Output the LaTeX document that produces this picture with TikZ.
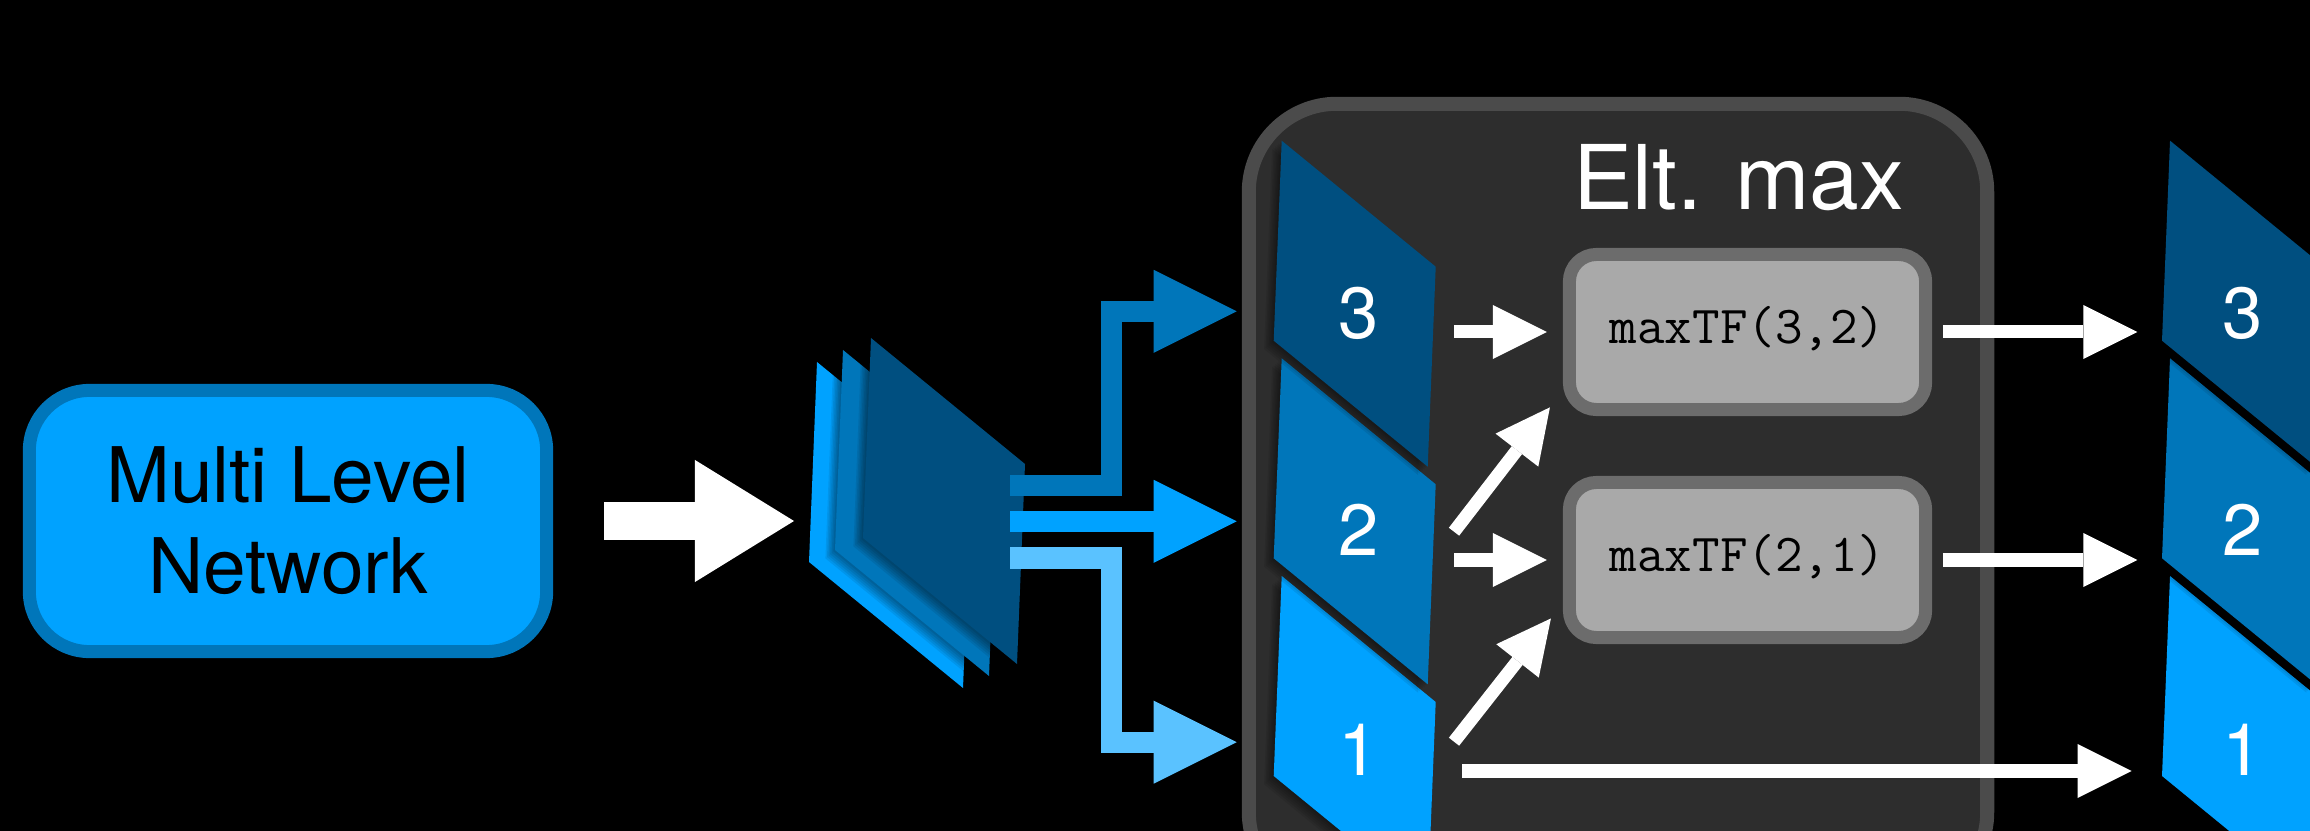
\documentclass[tikz,border=0pt]{standalone}
\usepackage{fontspec}
\setmainfont{TeX Gyre Heros}
\usetikzlibrary{arrows.meta,calc}

\definecolor{cdark}{HTML}{004F80}
\definecolor{cmid}{HTML}{0076BA}
\definecolor{clight}{HTML}{00A2FF}
\definecolor{cpale}{HTML}{5AC2FF}
\definecolor{eltfill}{HTML}{2D2D2D}
\definecolor{eltline}{HTML}{4B4B4B}
\definecolor{mxfill}{HTML}{A9A9A9}
\definecolor{mxline}{HTML}{6C6C6C}

\tikzset{
  % one slanted feature slab with a soft drop shadow
  pics/slab/.style={code={
    \foreach \k in {1,...,6}
      \fill[black, opacity=0.08, shift={(-1.6*\k,1.4*\k)}]
        (0,0) -- (154,126) -- (146,326) -- (-8,200) -- cycle;
    \fill[#1] (0,0) -- (154,126) -- (146,326) -- (-8,200) -- cycle;
  }},
  netbox/.style={draw=cmid, fill=clight, line width=0.13cm, rounded corners=0.6cm,
    minimum width=5.17cm, minimum height=2.61cm, inner sep=0pt, align=center,
    font=\fontsize{21.8}{25.9}\selectfont},
  eltbox/.style={draw=eltline, fill=eltfill, line width=0.14cm, rounded corners=0.88cm,
    minimum width=7.38cm, minimum height=7.96cm, inner sep=0pt},
  mxbox/.style={draw=mxline, fill=mxfill, line width=0.13cm, rounded corners=0.27cm,
    minimum width=3.56cm, minimum height=1.55cm, inner sep=0pt,
    text height=0.75em, text depth=0.11em,
    font=\fontsize{15.2}{18}\ttfamily},
  digit/.style={text=white, anchor=base, inner sep=0pt, font=\fontsize{20.6}{24}\selectfont},
  title/.style={text=white, anchor=base, inner sep=0pt, font=\fontsize{25.4}{30}\selectfont},
  bigarrow/.style={color=white, line width=0.37cm,
    -{Triangle[length=0.99cm, width=1.22cm, line width=0pt]}},
  smallarrow/.style={color=white, line width=0.13cm,
    -{Triangle[length=0.54cm, width=0.54cm, line width=0pt]}},
  branch/.style={line width=0.21cm, line join=miter,
    -{Triangle[length=0.83cm, width=0.83cm, line width=0pt]}},
}

\begin{document}
\begin{tikzpicture}[x=0.01cm, y=-0.01cm]
\useasboundingbox (0,0) rectangle (2310,831);
\fill[black] (0,0) rectangle (2310,831);

% input network
\node[netbox] (net) at (288,521) {Multi Level\\Network};

% stack of feature maps produced by the network
\pic (N1) at (817,362) {slab=clight};
\pic (N2) at (843,350) {slab=cmid};
\pic (N3) at (871,338) {slab=cdark};
\coordinate (stackin) at (794,521);
\draw[bigarrow] ($(net.east)+(51,0)$) -- (stackin);

% element-wise max block
\node[eltbox] (elt) at (1618,502) {};
\node[title] (eltname) at (1738.5,210) {Elt. max};

\pic (L1) at (1281.7,576) {slab=clight};
\pic (L2) at (1281.7,358.3) {slab=cmid};
\pic (L3) at (1281.7,140.7) {slab=cdark};
\node[digit] (l3) at (1359,338.3) {3};
\node[digit] (l2) at (1359,555) {2};
\node[digit] (l1) at (1359,775) {1};

\node[mxbox] (m32) at (1747.5,332) {maxTF(3,2)};
\node[mxbox] (m21) at (1747.5,560) {maxTF(2,1)};

% output levels
\pic (R1) at (2170,576) {slab=clight};
\pic (R2) at (2170,358.3) {slab=cmid};
\pic (R3) at (2170,140.7) {slab=cdark};
\node[digit] (r3) at (2243,338.3) {3};
\node[digit] (r2) at (2243,555) {2};
\node[digit] (r1) at (2243,775) {1};

% split of the stack into its three levels
\coordinate (s3) at (1010,485.5);
\coordinate (s2) at (1010,521.3);
\coordinate (s1) at (1010,558);
\coordinate (e3) at (1236.7,311.3);
\coordinate (e2) at (1236.7,521.3);
\coordinate (e1) at (1236.7,742.2);
\draw[branch, cmid] (s3) -- ++(101,0) |- (e3);
\draw[branch, clight] (s2) -- (e2);
\draw[branch, cpale] (s1) -- ++(101,0) |- (e1);

% level inputs to the max operations
\coordinate (t3) at (1454,332);
\coordinate (t2) at (1454,560);
\coordinate (d2) at (1454,531.7);
\coordinate (d1) at (1454,741.7);
\draw[smallarrow] (t3) -- ($(m32.west)+(-16,0)$);
\draw[smallarrow] (t2) -- ($(m21.west)+(-16,0)$);
\draw[smallarrow] (d2) -- ($(m32.south west)+(-13,-8.7)$);
\draw[smallarrow] (d1) -- ($(m21.south west)+(-12,-25.6)$);

% results
\coordinate (o3) at (2137.3,332);
\coordinate (o2) at (2137.3,560);
\coordinate (o1) at (2131.7,771);
\coordinate (t1) at (1462,771);
\draw[smallarrow] ($(m32.east)+(10.7,0)$) -- (o3);
\draw[smallarrow] ($(m21.east)+(10.7,0)$) -- (o2);
\draw[smallarrow] (t1) -- (o1);
\end{tikzpicture}
\end{document}
